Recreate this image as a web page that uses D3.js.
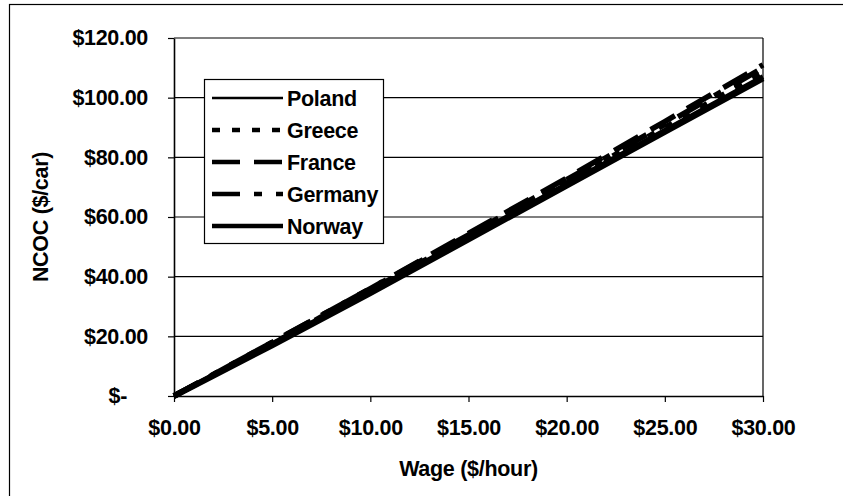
<!DOCTYPE html>
<html>
<head>
<meta charset="utf-8">
<script src="https://cdn.jsdelivr.net/npm/d3@7"></script>
<style>
  body { margin: 0; background: #fff; }
  text { font-family: "Liberation Sans", Arial, sans-serif; font-weight: bold; fill: #000; }
</style>
</head>
<body>
<svg id="chart" width="843" height="496"></svg>
<script>
// wage points ($/hour) and NCOC ($/car) for each country
var wages = [0, 5, 10, 15, 20, 25, 30];
var poland  = [0, 17.5, 35.0, 53.0, 71.0, 89.0, 107.0];
var greece  = [0, 17.5, 35.5, 53.5, 72.0, 90.0, 108.5];
var france  = [0, 18.0, 36.0, 54.5, 73.0, 92.0, 111.0];
var germany = [0, 18.0, 36.0, 54.0, 72.5, 91.0, 110.0];
var norway  = [0, 17.0, 34.5, 52.5, 70.5, 88.5, 106.5];
var countries = ["Poland", "Greece", "France", "Germany", "Norway"];
var yTicks = [0, 20, 40, 60, 80, 100, 120];
var xTicks = [0, 5, 10, 15, 20, 25, 30];

var series = [poland, greece, france, germany, norway];
// line look for each country, same order
var dashes = [null, "8,12", "28,14", "28,14,8,14", null];
var widths = [5, 5.5, 5.5, 5.5, 6];
var legendWidths = [2.5, 4.5, 4.5, 4.5, 4.5];

var fontSize = "21.5px";
var svg = d3.select("#chart");

// outer frame
svg.append("rect")
    .attr("x", 9.5).attr("y", 4.5)
    .attr("width", 900).attr("height", 600)
    .attr("fill", "none").attr("stroke", "#000").attr("stroke-width", 1.2);

var pLeft = 174, pTop = 38, pRight = 763, pBottom = 396;

var x = d3.scaleLinear().domain([0, 30]).range([pLeft, pRight]);
var y = d3.scaleLinear().domain([0, 120]).range([pBottom, pTop]);

// gridlines
svg.append("g").selectAll("line")
    .data(yTicks.filter(function(d) { return d > 0; }))
    .enter().append("line")
    .attr("x1", pLeft).attr("x2", pRight)
    .attr("y1", function(d) { return y(d); })
    .attr("y2", function(d) { return y(d); })
    .attr("stroke", "#000").attr("stroke-width", 1.2);

// right border of plot
svg.append("line")
    .attr("x1", pRight).attr("x2", pRight)
    .attr("y1", pTop).attr("y2", pBottom)
    .attr("stroke", "#000").attr("stroke-width", 1.2);

// axes
var yAxis = d3.axisLeft(y).tickValues(yTicks).tickSize(6).tickSizeOuter(0)
    .tickFormat(function(d) { return d === 0 ? "$-" : d3.format("$.2f")(d); });
var gy = svg.append("g")
    .attr("transform", "translate(" + pLeft + ",0)")
    .call(yAxis);
gy.selectAll("text")
    .attr("x", function(d) { return d === 0 ? -47 : -26; })
    .style("font-size", fontSize)
    .style("font-family", "'Liberation Sans', Arial, sans-serif")
    .style("font-weight", "bold")
    .attr("letter-spacing", "-0.3");

var xAxis = d3.axisBottom(x).tickValues(xTicks).tickSize(6).tickSizeOuter(0)
    .tickFormat(d3.format("$.2f"));
var gx = svg.append("g")
    .attr("transform", "translate(0," + pBottom + ")")
    .call(xAxis);
gx.selectAll("text")
    .attr("y", 24)
    .style("font-size", fontSize)
    .style("font-family", "'Liberation Sans', Arial, sans-serif")
    .style("font-weight", "bold")
    .attr("letter-spacing", "-0.3");

svg.selectAll(".domain").attr("stroke", "#000").attr("stroke-width", 1.6);
svg.selectAll(".tick line").attr("stroke", "#000").attr("stroke-width", 1.2);

// axis titles
svg.append("text")
    .attr("x", (pLeft + pRight) / 2).attr("y", 476)
    .attr("text-anchor", "middle")
    .style("font-size", fontSize)
    .attr("letter-spacing", "-0.3")
    .text("Wage ($/hour)");

svg.append("text")
    .attr("transform", "translate(48," + ((pTop + pBottom) / 2) + ") rotate(-90)")
    .attr("text-anchor", "middle")
    .style("font-size", fontSize)
    .attr("letter-spacing", "-0.3")
    .text("NCOC ($/car)");

// data lines
var line = d3.line()
    .x(function(d, i) { return x(wages[i]); })
    .y(function(d) { return y(d); });

svg.append("g").selectAll("path")
    .data(series)
    .enter().append("path")
    .attr("d", line)
    .attr("fill", "none")
    .attr("stroke", "#000")
    .attr("stroke-width", function(d, i) { return widths[i]; })
    .attr("stroke-dasharray", function(d, i) { return dashes[i]; });

// legend
var legend = svg.append("g");
legend.append("rect")
    .attr("x", 204.5).attr("y", 79.5)
    .attr("width", 179).attr("height", 164)
    .attr("fill", "#fff").attr("stroke", "#000").attr("stroke-width", 1.2);

var items = legend.selectAll("g.item")
    .data(countries)
    .enter().append("g")
    .attr("class", "item")
    .attr("transform", function(d, i) { return "translate(0," + (98 + i * 32) + ")"; });

items.append("line")
    .attr("x1", 212).attr("x2", 283)
    .attr("y1", 0).attr("y2", 0)
    .attr("stroke", "#000")
    .attr("stroke-width", function(d, i) { return legendWidths[i]; })
    .attr("stroke-dasharray", function(d, i) { return dashes[i]; });

items.append("text")
    .attr("x", 287).attr("y", 7.5)
    .style("font-size", fontSize)
    .attr("letter-spacing", "-0.3")
    .text(function(d) { return d; });
</script>
</body>
</html>
